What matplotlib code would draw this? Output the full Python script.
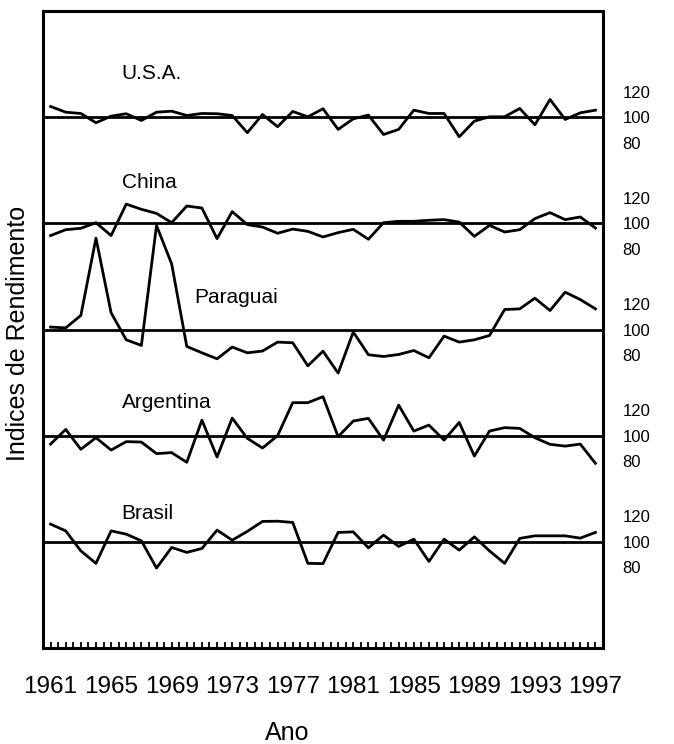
import matplotlib.pyplot as plt
import numpy as np

plt.rcParams['font.family'] = ['Liberation Sans', 'DejaVu Sans']

anos = list(range(1961, 1998))

# indices de rendimento (base 100) por pais
usa = [108.4, 103.9, 102.9, 95.6, 100.8, 102.7, 97.4, 103.9, 104.7, 101.3,
       102.9, 102.7, 101.3, 87.8, 102.1, 92.5, 104.5, 100.3, 106.6, 90.4,
       98.7, 101.6, 86.4, 90.4, 105.5, 102.9, 102.9, 84.6, 96.9, 100.3,
       100.3, 106.8, 94.0, 113.9, 98.2, 103.4, 105.5]
china = [90.4, 95.0, 96.1, 100.5, 90.4, 115.1, 111.0, 107.8, 100.5, 113.6,
         112.0, 88.0, 109.2, 99.0, 97.1, 92.2, 95.5, 93.7, 89.3, 92.7,
         95.3, 87.5, 100.5, 101.6, 101.6, 102.4, 102.9, 101.0, 89.8, 98.4,
         93.2, 95.0, 103.7, 108.4, 102.9, 105.0, 96.3]
paraguai = [101.9, 101.3, 111.0, 171.7, 113.1, 91.9, 87.5, 181.6, 151.5, 86.7,
            81.7, 77.0, 86.2, 81.7, 83.1, 90.1, 89.6, 71.5, 83.0, 65.8,
            98.0, 80.2, 78.8, 80.4, 83.5, 77.8, 94.8, 90.1, 91.9, 95.3,
            115.7, 116.2, 124.6, 114.9, 129.3, 123.5, 116.2]
argentina = [93.4, 104.9, 89.3, 98.4, 88.7, 95.3, 95.0, 85.9, 86.7, 79.1,
             112.2, 83.2, 113.8, 97.9, 90.3, 100.0, 125.9, 125.9, 130.6, 99.2,
             111.5, 113.6, 96.5, 124.0, 103.6, 108.3, 96.5, 110.4, 84.0, 103.6,
             106.3, 105.7, 98.4, 93.2, 91.8, 93.4, 78.3]
brasil = [113.9, 108.6, 92.9, 83.1, 108.6, 106.0, 100.8, 79.4, 95.6, 91.7,
          94.8, 109.2, 101.3, 108.2, 116.0, 116.2, 115.2, 83.1, 82.9, 107.4,
          107.8, 95.3, 105.3, 96.4, 102.1, 84.6, 102.1, 93.5, 103.9, 92.9,
          83.1, 102.7, 104.7, 104.7, 104.7, 102.9, 107.4]

series = [brasil, argentina, paraguai, china, usa]
nomes = ['Brasil', 'Argentina', 'Paraguai', 'China', 'U.S.A.']
escala_y = [80, 100, 120]

desloc = 500 / 6.0
# posicao do nome de cada pais (indice do ano, altura acima da linha base)
pos_nome = [(4.7, 22), (4.7, 26), (9.5, 25), (4.7, 32), (4.7, 34)]

fig = plt.figure(figsize=(6.74, 7.44), dpi=100)
ax = fig.add_axes([43 / 674, 96 / 744, 560 / 674, 637 / 744])

x = np.arange(len(anos))
ticks_y, labels_y = [], []
for k, (s, nome) in enumerate(zip(series, nomes)):
    base = desloc * (k + 1)
    ax.axhline(base, color='black', lw=2)
    ax.plot(x, np.array(s) - 100 + base, color='black', lw=2)
    px, py = pos_nome[k]
    ax.text(px, base + py, nome, fontsize=15, va='center', ha='left')
    for v in escala_y:
        ticks_y.append(base + v - 100)
        labels_y.append(str(v))

ax.set_xlim(-0.5, len(anos) - 0.5)
ax.set_ylim(0, 500)

# marcas a cada meio ano, rotulo so a cada 4 anos
pos_x = np.arange(-0.5, len(anos), 0.5)
rot_x = []
for p in pos_x:
    if p == int(p) and int(p) % 4 == 0:
        rot_x.append(str(anos[int(p)]))
    else:
        rot_x.append('')
ax.set_xticks(pos_x)
ax.set_xticklabels(rot_x, fontsize=17.5)
ax.tick_params(axis='x', direction='in', length=4, width=1.3, pad=20)

ax.yaxis.tick_right()
ax.set_yticks(ticks_y)
ax.set_yticklabels(labels_y, fontsize=12)
ax.tick_params(axis='y', length=0, pad=14)

for sp in ax.spines.values():
    sp.set_linewidth(2.2)

fig.text(287 / 674, 11 / 744, 'Ano', fontsize=18, ha='center', va='center')
fig.text(18 / 674, 411 / 744, 'Indices de Rendimento', fontsize=18,
         rotation=90, ha='center', va='center')

fig.savefig('out.png')
